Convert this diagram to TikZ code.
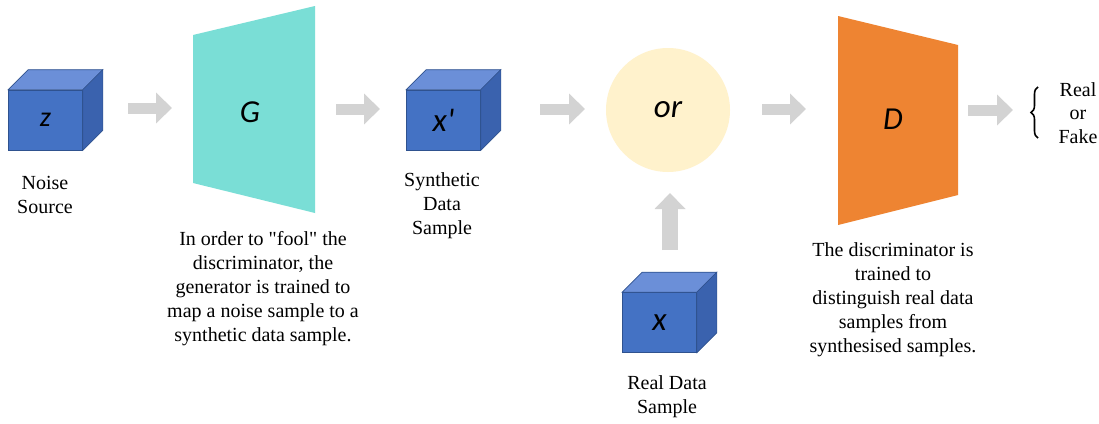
\documentclass[tikz,border=0pt]{standalone}
\usepackage{fontspec}
\setmainfont{Liberation Serif}[Ligatures=TeXOff]
\newfontfamily\tnr{Liberation Serif}[Ligatures=TeXOff]
\newfontfamily\calib{Carlito}[Ligatures=TeXOff]
\usetikzlibrary{arrows.meta,decorations.pathreplacing,calc}
\definecolor{cubefrontc}{HTML}{4472C4}
\definecolor{cubetopc}{HTML}{6B8FD8}
\definecolor{cubesidec}{HTML}{3A62AE}
\definecolor{cubeedge}{HTML}{2F528F}
\definecolor{genc}{HTML}{7ADED6}
\definecolor{disc}{HTML}{EE8432}
\definecolor{orc}{HTML}{FFF2CC}
\definecolor{arrc}{HTML}{D3D3D3}
\tikzset{
  cubefront/.style={draw=cubeedge, line width=0.6pt, fill=cubefrontc, minimum width=74pt, minimum height=60pt, inner sep=0pt, font=\calib\itshape\fontsize{33}{33}\selectfont},
  cubetop/.style={draw=cubeedge, line width=0.6pt, fill=cubetopc},
  cubeside/.style={draw=cubeedge, line width=0.6pt, fill=cubesidec},
  lbl/.style={align=center, font=\tnr\fontsize{20}{24}\selectfont, inner sep=0pt},
  bigletter/.style={font=\calib\itshape\fontsize{32}{32}\selectfont, inner sep=0pt},
  blockarrow/.style={arrc, line width=11pt, -{Triangle[width=30pt,length=16pt]}},
}
\newcommand\drawcubesides[1]{%
  \filldraw[cubetop] (#1.north west) -- ++(20,-20) -- ($(#1.north east)+(20pt,20pt)$) -- (#1.north east) -- cycle;
  \filldraw[cubeside] (#1.north east) -- ++(20,-20) -- ($(#1.south east)+(20pt,20pt)$) -- (#1.south east) -- cycle;
}
\begin{document}
\begin{tikzpicture}[x=1pt,y=-1pt]
\useasboundingbox (0,0) rectangle (1099,423);
\fill[white] (0,0) rectangle (1099,423);

% noise cube
\node[cubefront, font=\calib\itshape\fontsize{28}{28}\selectfont] (z) at (45.5,120) {z};
\drawcubesides{z}
\node[lbl] (zl) at (45,195) {Noise\\Source};

% generator
\fill[genc] (193,35) -- (315,6) -- (315,213) -- (193,183) -- cycle;
\node[bigletter] (G) at (250,112) {G};
\node[lbl] (Gl) at (263,289) {In order to "fool" the\\discriminator, the\\generator is trained to\\map a noise sample to a\\synthetic data sample.};

% synthetic cube
\node[cubefront] (xs) at (443.5,120) {x'};
\drawcubesides{xs}
\node[lbl] (xsl) at (442,206) {Synthetic\\Data\\Sample};

% or circle
\node[circle, fill=orc, minimum size=124pt, inner sep=0pt, font=\calib\itshape\fontsize{33}{33}\selectfont] (or) at (668,110) {or};

% real cube
\node[cubefront] (xr) at (659.5,322.5) {x};
\drawcubesides{xr}
\node[lbl] (xrl) at (667,397) {Real Data\\Sample};

% discriminator
\fill[disc] (838,16) -- (958,45) -- (958,195) -- (838,225) -- cycle;
\node[bigletter] (D) at (893,119) {D};
\node[lbl] (Dl) at (893,300) {The discriminator is\\trained to\\distinguish real data\\samples from\\synthesised samples.};

% output
\node[lbl, font=\tnr\fontsize{20}{23.5}\selectfont] (out) at (1078,113) {Real\\or\\Fake};
\coordinate (bt) at (1038,87);
\coordinate (bb) at (1038,138);
\draw[line width=1.6pt, decorate, decoration={brace, amplitude=7pt}] (bb) -- (bt);

% arrows
\coordinate (a1s) at (128,108); \coordinate (a1e) at (172,108);
\coordinate (a2s) at (336,109); \coordinate (a2e) at (380,109);
\coordinate (a3s) at (540,109); \coordinate (a3e) at (585,109);
\coordinate (a4s) at (762,109); \coordinate (a4e) at (806,109);
\coordinate (a5s) at (968,110); \coordinate (a5e) at (1013,110);
\coordinate (a6s) at (670,250); \coordinate (a6e) at (670,193);
\draw[blockarrow] (a1s) -- (a1e);
\draw[blockarrow] (a2s) -- (a2e);
\draw[blockarrow] (a3s) -- (a3e);
\draw[blockarrow] (a4s) -- (a4e);
\draw[blockarrow] (a5s) -- (a5e);
\draw[blockarrow, line width=16pt] (a6s) -- (a6e);
\end{tikzpicture}
\end{document}
